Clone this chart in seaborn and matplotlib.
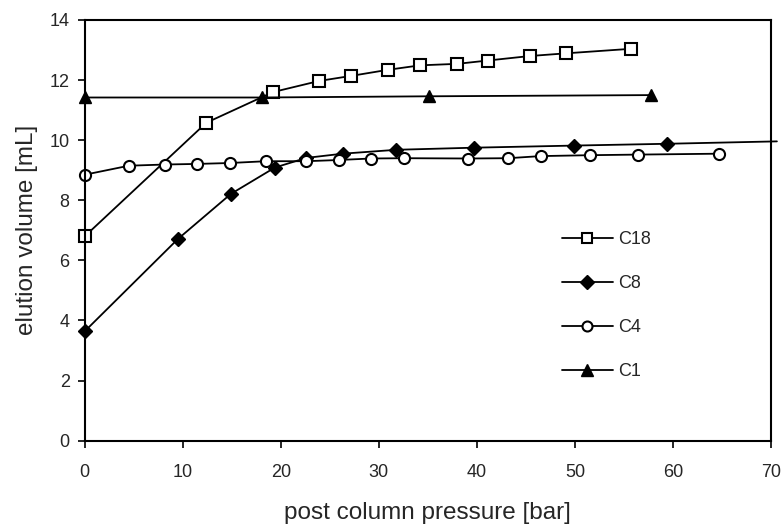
import matplotlib
matplotlib.use("Agg")
import matplotlib.pyplot as plt
import seaborn as sns
import pandas as pd

# Data
c18_x = [0, 12.4, 19.2, 23.9, 27.2, 30.9, 34.2, 38.0, 41.1, 45.4, 49.1, 55.7]
c18_y = [6.80, 10.58, 11.60, 11.97, 12.14, 12.34, 12.49, 12.54, 12.65, 12.80, 12.89, 13.04]

c8_x = [0, 9.5, 14.9, 19.4, 22.6, 26.3, 31.8, 39.7, 49.9, 59.4]
c8_y = [3.64, 6.71, 8.21, 9.09, 9.41, 9.55, 9.68, 9.75, 9.82, 9.88]
# C8 trend line runs on past the last point to the right edge
c8_tail_x = [59.4, 70.6]
c8_tail_y = [9.88, 9.96]

c4_x = [0, 4.5, 8.2, 11.5, 14.8, 18.5, 22.6, 25.9, 29.2, 32.6, 39.1, 43.2, 46.5, 51.5, 56.4, 64.7]
c4_y = [8.85, 9.15, 9.19, 9.21, 9.24, 9.30, 9.30, 9.34, 9.39, 9.40, 9.39, 9.40, 9.47, 9.50, 9.52, 9.55]

c1_x = [0, 18.1, 35.1, 57.8]
c1_y = [11.42, 11.42, 11.46, 11.50]

x_ticks = [0, 10, 20, 30, 40, 50, 60, 70]
y_ticks = [0, 2, 4, 6, 8, 10, 12, 14]

sns.set_style("white")
plt.rcParams['font.family'] = ['Liberation Sans', 'DejaVu Sans']

fig = plt.figure(figsize=(7.83, 5.24), dpi=100)
ax = fig.add_axes([0.1082, 0.159, 0.8765, 0.8029])

line_kw = dict(color='black', linewidth=1.3, clip_on=False, markeredgecolor='black')

sns.lineplot(data=pd.DataFrame({'x': c18_x, 'y': c18_y}), x='x', y='y', ax=ax,
             marker='s', markersize=8.5, markerfacecolor='white', markeredgewidth=1.5,
             label='C18', **line_kw)
sns.lineplot(data=pd.DataFrame({'x': c8_x, 'y': c8_y}), x='x', y='y', ax=ax,
             marker='D', markersize=7.5, markerfacecolor='black', markeredgewidth=1,
             label='C8', **line_kw)
sns.lineplot(x=c8_tail_x, y=c8_tail_y, ax=ax, color='black', linewidth=1.3, clip_on=False)
sns.lineplot(data=pd.DataFrame({'x': c4_x, 'y': c4_y}), x='x', y='y', ax=ax,
             marker='o', markersize=8, markerfacecolor='white', markeredgewidth=1.5,
             label='C4', **line_kw)
sns.lineplot(data=pd.DataFrame({'x': c1_x, 'y': c1_y}), x='x', y='y', ax=ax,
             marker='^', markersize=9, markerfacecolor='black', markeredgewidth=1,
             label='C1', **line_kw)

ax.set_xlim(0, 70)
ax.set_ylim(0, 14)
ax.set_xticks(x_ticks)
ax.set_yticks(y_ticks)
ax.tick_params(axis='both', direction='out', length=4.8, width=1.2, color='black',
               labelsize=13, bottom=True, left=True)
ax.tick_params(axis='x', pad=12)
ax.tick_params(axis='y', pad=6)

for side in ['left', 'bottom', 'right', 'top']:
    ax.spines[side].set_color('black')
    ax.spines[side].set_linewidth(1.5)

ax.set_xlabel('post column pressure [bar]', fontsize=17.5, labelpad=15)
ax.set_ylabel('elution volume [mL]', fontsize=17.5, labelpad=8)

ax.legend(loc='upper left', bbox_to_anchor=(0.6955, 0.4985), frameon=False,
          fontsize=13, handlelength=2.8, handletextpad=0.3, labelspacing=1.5,
          borderpad=0, borderaxespad=0, markerscale=0.9)

fig.savefig('out.png', dpi=100)
